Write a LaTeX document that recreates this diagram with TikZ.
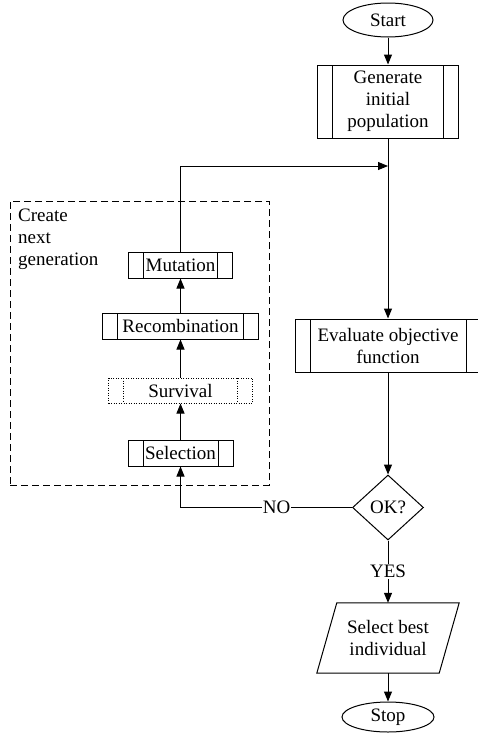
\documentclass[tikz,border=0pt]{standalone}
\usepackage{fontspec}
\setmainfont{Liberation Serif}
\usetikzlibrary{shapes.geometric,arrows.meta}

\tikzset{
    flow/.style={-{Triangle[length=10pt,width=8pt]}, line width=1pt},
    term/.style={draw, ellipse, line width=1pt, inner sep=0pt},
    barline/.style={},
    subproc/.style={draw, line width=1pt, inner sep=0pt, align=center,
        path picture={
            \draw [barline, line width=1pt] ([xshift=15pt]path picture bounding box.north west) -- ([xshift=15pt]path picture bounding box.south west);
            \draw [barline, line width=1pt] ([xshift=-15pt]path picture bounding box.north east) -- ([xshift=-15pt]path picture bounding box.south east);
        }},
    flowtext/.style={fill=white, inner sep=1pt},
}

\begin{document}
\begin{tikzpicture}[x=1pt, y=-1pt, font=\fontsize{19}{22}\selectfont]
    \useasboundingbox (0,0) rectangle (478,739);
    \node (start) [term, minimum width=90pt, minimum height=34pt] at (388,20) {Start};
    \node (gen) [subproc, minimum width=141pt, minimum height=73pt] at (388,101.5) {Generate\\initial\\population};
    \coordinate (join) at (388,166);
    \node (eval) [subproc, minimum width=186pt, minimum height=53pt] at (388,345.5) {Evaluate objective\\function};
    \node (ok) [draw, diamond, line width=1pt, inner sep=0pt, minimum width=71pt, minimum height=65pt] at (388,507.5) {OK?};
    \node (best) [minimum width=122pt, minimum height=70pt, align=center, inner sep=0pt] at (388,638) {Select best\\individual};
    \draw [line width=1pt] ([xshift=-10pt]best.south west) -- ([xshift=10pt]best.north west)
        -- ([xshift=10pt]best.north east) -- ([xshift=-10pt]best.south east) -- cycle;
    \node (stop) [term, minimum width=92pt, minimum height=30pt] at (388,717) {Stop};

    % next generation
    \node (grp) [draw, line width=1pt, dash pattern=on 7pt off 4pt, minimum width=259pt, minimum height=284pt] at (139.5,343) {};
    \node (grp_title) [anchor=north west, align=left, inner sep=0pt] at (18,209) {Create\\next\\generation};
    \node (mut) [subproc, minimum width=104pt, minimum height=26pt] at (180.5,265) {Mutation};
    \node (rec) [subproc, minimum width=156pt, minimum height=26pt] at (180.5,326) {Recombination};
    \node (surv) [subproc, dash pattern=on 1pt off 1.5pt, barline/.style={dash pattern=on 1pt off 1.5pt},
        minimum width=144pt, minimum height=25pt] at (180.5,390.5) {Survival};
    \node (sel) [subproc, minimum width=105pt, minimum height=26pt] at (180.5,453) {Selection};

    \draw [flow] (start) -- (gen);
    \draw [flow] (gen) -- (eval);
    \draw [flow] (eval) -- (ok);
    \draw [flow] (ok) -| node [flowtext, pos=0.22] {NO} (sel);
    \draw [flow] (sel) -- (surv);
    \draw [flow] (surv) -- (rec);
    \draw [flow] (rec) -- (mut);
    \draw [flow] (mut) |- (join);
    \draw [flow] (ok) -- node [flowtext] {YES} (best);
    \draw [flow] (best) -- (stop);
\end{tikzpicture}
\end{document}
